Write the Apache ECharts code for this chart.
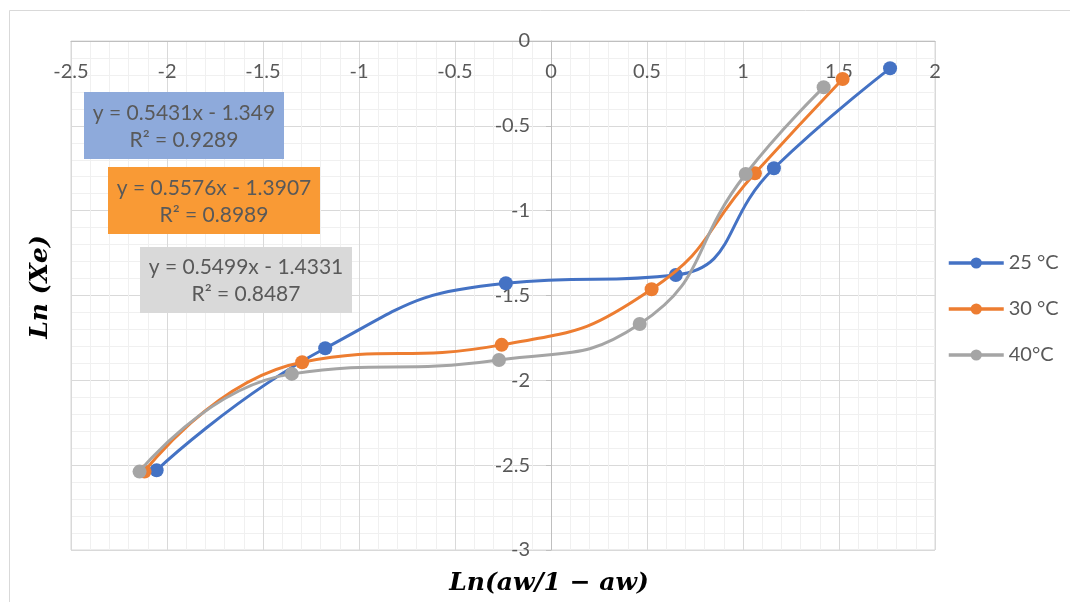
<!DOCTYPE html>
<html>
<head>
<meta charset="utf-8">
<script src="https://cdn.jsdelivr.net/npm/echarts@6/dist/echarts.min.js"></script>
<style>
  html, body { margin: 0; padding: 0; background: #fff; }
  #chart { width: 1070px; height: 602px; }
</style>
</head>
<body>
<div id="chart"></div>
<script>
// Sorption isotherm data: Ln(aw/1-aw) vs Ln(Xe)
const seriesNames = ['25 °C', '30 °C', '40°C'];
const colors = ['#4472c4', '#ed7d31', '#a5a5a5'];

const x25 = [-2.054, -1.176, -0.235, 0.650, 1.161, 1.766];
const y25 = [-2.530, -1.811, -1.428, -1.379, -0.750, -0.161];

const x30 = [-2.117, -1.296, -0.257, 0.524, 1.062, 1.519];
const y30 = [-2.538, -1.893, -1.791, -1.463, -0.780, -0.224];

const x40 = [-2.143, -1.350, -0.271, 0.462, 1.014, 1.420];
const y40 = [-2.538, -1.962, -1.880, -1.668, -0.784, -0.273];

// Trendline equations shown in the boxes
const equations = ['y = 0.5431x - 1.349', 'y = 0.5576x - 1.3907', 'y = 0.5499x - 1.4331'];
const rSquared = ['R² = 0.9289', 'R² = 0.8989', 'R² = 0.8487'];

const xTitle = 'Ln(aw/1 − aw)';
const yTitle = 'Ln (Xe)';

// Axis ranges
const xMin = -2.5, xMax = 2, yMin = -3, yMax = 0, step = 0.5;

function pairs(xs, ys) { return xs.map((x, i) => [x, ys[i]]); }
const dataSets = [pairs(x25, y25), pairs(x30, y30), pairs(x40, y40)];

const labelFont = 'Lato, "Noto Sans", sans-serif';
const textColor = '#595959';
const titleFont = 'italic bold 25px "DejaVu Serif", "Liberation Serif", serif';

// plot area placement
const gridLeft = 71, gridRight = 135, gridTop = 41, gridBottom = 52;
const plotWidth = 1070 - gridLeft - gridRight;
// the vertical axis crosses the horizontal one at x = 0
const yAxisOffset = -plotWidth * (0 - xMin) / (xMax - xMin);

const chart = echarts.init(document.getElementById('chart'), null, { renderer: 'canvas' });

const boxes = [
  { x: 84, y: 92, w: 200, h: 67, fill: '#8eaadb' },
  { x: 108, y: 167, w: 212, h: 67, fill: '#f99a35' },
  { x: 140, y: 247, w: 212, h: 66, fill: '#d9d9d9' }
];

const graphics = [
  {
    type: 'rect', silent: true, z: 0,
    shape: { x: 9.5, y: 10.5, width: 1100, height: 620 },
    style: { fill: 'none', stroke: '#d9d9d9', lineWidth: 1 }
  }
];
boxes.forEach((b, i) => {
  graphics.push({
    type: 'rect', silent: true, z: 100,
    shape: { x: b.x, y: b.y, width: b.w, height: b.h },
    style: { fill: b.fill }
  });
  graphics.push({
    type: 'text', silent: true, z: 101,
    x: b.x + b.w / 2, y: b.y + b.h / 2 + 1,
    style: {
      text: equations[i] + '\n' + rSquared[i],
      fill: textColor, font: '21px ' + labelFont,
      align: 'center', verticalAlign: 'middle', lineHeight: 27
    }
  });
});
graphics.push({
  type: 'text', silent: true,
  x: 549, y: 583,
  style: {
    text: xTitle, fill: '#000', font: titleFont,
    align: 'center', verticalAlign: 'middle'
  }
});
graphics.push({
  type: 'text', silent: true,
  x: 40, y: 287, rotation: Math.PI / 2,
  style: {
    text: yTitle, fill: '#000', font: titleFont,
    align: 'center', verticalAlign: 'middle'
  }
});

const fmt = v => String(Math.round(v * 10) / 10);

const option = {
  animation: false,
  backgroundColor: '#ffffff',
  grid: {
    left: gridLeft, right: gridRight, top: gridTop, bottom: gridBottom,
    show: true, borderColor: '#d9d9d9', borderWidth: 1
  },
  legend: {
    orient: 'vertical',
    left: 947, top: 253, padding: 0,
    itemWidth: 55, itemHeight: 14, itemGap: 26,
    lineStyle: { width: 3.5 },
    textStyle: { color: textColor, fontSize: 20, fontFamily: labelFont, padding: [0, 0, 0, 0] },
    data: seriesNames
  },
  xAxis: {
    type: 'value', min: xMin, max: xMax, interval: step,
    position: 'top',
    axisLine: { onZero: false, lineStyle: { color: '#bfbfbf', width: 1 } },
    axisTick: { show: false },
    axisLabel: {
      inside: true,
      color: textColor, fontSize: 20, fontFamily: labelFont, margin: 21,
      formatter: fmt
    },
    splitLine: { show: true, lineStyle: { color: '#d9d9d9', width: 1 } },
    minorTick: { show: false, splitNumber: 5 },
    minorSplitLine: { show: true, lineStyle: { color: '#f0f0f0', width: 1 } }
  },
  yAxis: {
    type: 'value', min: yMin, max: yMax, interval: step,
    position: 'left', offset: yAxisOffset,
    axisLine: { onZero: false, lineStyle: { color: '#bfbfbf', width: 1 } },
    axisTick: { show: true, length: 5, lineStyle: { color: '#bfbfbf' } },
    axisLabel: {
      color: textColor, fontSize: 20, fontFamily: labelFont, margin: 21,
      formatter: fmt
    },
    splitLine: { show: true, lineStyle: { color: '#d9d9d9', width: 1 } },
    minorTick: { show: false, splitNumber: 5 },
    minorSplitLine: { show: true, lineStyle: { color: '#f0f0f0', width: 1 } }
  },
  series: seriesNames.map((name, i) => ({
    name: name,
    type: 'line',
    data: dataSets[i],
    smooth: 0.5,
    symbol: 'circle',
    symbolSize: 14,
    color: colors[i],
    lineStyle: { width: 3, color: colors[i] },
    itemStyle: { color: colors[i] },
    z: 10 + i
  })),
  graphic: graphics
};

chart.setOption(option);
</script>
</body>
</html>
